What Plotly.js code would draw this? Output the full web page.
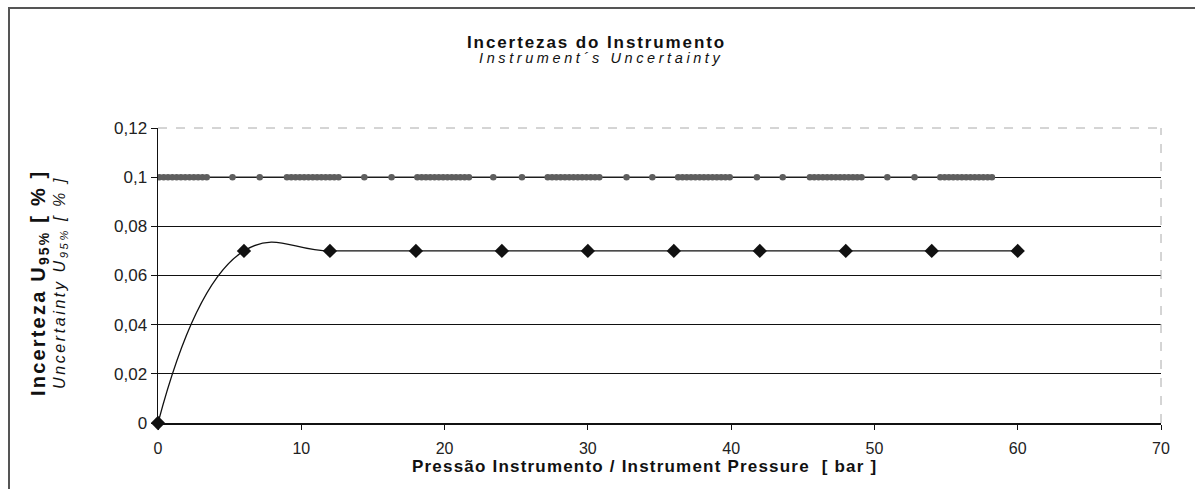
<!DOCTYPE html>
<html>
<head>
<meta charset="utf-8">
<script src="https://cdn.plot.ly/plotly-3.0.1.min.js"></script>
<style>
html,body{margin:0;padding:0;background:#fff;}
#wrap{position:relative;width:1195px;height:489px;overflow:hidden;}
#chart{position:absolute;left:0;top:0;width:1195px;height:489px;}
#frame{position:absolute;left:8px;top:7px;width:1200px;height:490px;border-left:2px solid #555;border-top:2px solid #555;pointer-events:none;}
</style>
</head>
<body>
<div id="wrap"><div id="chart"></div><div id="frame"></div></div>
<script>
// Instrument uncertainty (diamonds)
const pressure = [0, 6, 12, 18, 24, 30, 36, 42, 48, 54, 60];
const uncertainty = [0, 0.07, 0.07, 0.07, 0.07, 0.07, 0.07, 0.07, 0.07, 0.07, 0.07];

// Reference points at 0.1 % (grey clusters and dots)
const refPressure = [
  0.1, 0.4, 0.7, 1.0, 1.3, 1.6, 1.9, 2.2, 2.5, 2.8, 3.1, 3.4,
  5.2, 7.1,
  9.0, 9.3, 9.6, 9.9, 10.2, 10.5, 10.8, 11.1, 11.4, 11.7, 12.0, 12.3, 12.6,
  14.4, 16.3,
  18.1, 18.4, 18.7, 19.0, 19.3, 19.6, 19.9, 20.2, 20.5, 20.8, 21.1, 21.4, 21.7,
  23.4, 25.4,
  27.2, 27.5, 27.8, 28.1, 28.4, 28.7, 29.0, 29.3, 29.6, 29.9, 30.2, 30.5, 30.8,
  32.7, 34.5,
  36.3, 36.6, 36.9, 37.2, 37.5, 37.8, 38.1, 38.4, 38.7, 39.0, 39.3, 39.6, 39.9,
  41.8, 43.6,
  45.5, 45.8, 46.1, 46.4, 46.7, 47.0, 47.3, 47.6, 47.9, 48.2, 48.5, 48.8, 49.1,
  50.9, 52.8,
  54.6, 54.9, 55.2, 55.5, 55.8, 56.1, 56.4, 56.7, 57.0, 57.3, 57.6, 57.9, 58.2
];
const refUncertainty = [
  0.1, 0.1, 0.1, 0.1, 0.1, 0.1, 0.1, 0.1, 0.1, 0.1, 0.1, 0.1,
  0.1, 0.1,
  0.1, 0.1, 0.1, 0.1, 0.1, 0.1, 0.1, 0.1, 0.1, 0.1, 0.1, 0.1, 0.1,
  0.1, 0.1,
  0.1, 0.1, 0.1, 0.1, 0.1, 0.1, 0.1, 0.1, 0.1, 0.1, 0.1, 0.1, 0.1,
  0.1, 0.1,
  0.1, 0.1, 0.1, 0.1, 0.1, 0.1, 0.1, 0.1, 0.1, 0.1, 0.1, 0.1, 0.1,
  0.1, 0.1,
  0.1, 0.1, 0.1, 0.1, 0.1, 0.1, 0.1, 0.1, 0.1, 0.1, 0.1, 0.1, 0.1,
  0.1, 0.1,
  0.1, 0.1, 0.1, 0.1, 0.1, 0.1, 0.1, 0.1, 0.1, 0.1, 0.1, 0.1, 0.1,
  0.1, 0.1,
  0.1, 0.1, 0.1, 0.1, 0.1, 0.1, 0.1, 0.1, 0.1, 0.1, 0.1, 0.1, 0.1
];

const xTicks = [0, 10, 20, 30, 40, 50, 60, 70];
const xTickLabels = ['0', '10', '20', '30', '40', '50', '60', '70'];
const yTicks = [0, 0.02, 0.04, 0.06, 0.08, 0.1, 0.12];
const yTickLabels = ['0', '0,02', '0,04', '0,06', '0,08', '0,1', '0,12'];

const titleMain = 'Incertezas do Instrumento';
const titleSub = 'Instrument´s Uncertainty';
const xTitle = 'Pressão Instrumento / Instrument Pressure  [ bar ]';
const yTitleMain = 'Incerteza U<sub>95%</sub> [ % ]';
const yTitleSub = 'Uncertainty U<sub>95%</sub> [ % ]';

const FONT = 'Liberation Sans, Arial, sans-serif';

const traces = [
  {
    x: refPressure, y: refUncertainty, type: 'scatter', mode: 'lines+markers',
    line: {color: '#222', width: 1.3},
    marker: {symbol: 'circle', size: 6.5, color: '#5e5e5e', line: {width: 0}},
    hoverinfo: 'x+y', showlegend: false
  },
  {
    x: pressure, y: uncertainty, type: 'scatter', mode: 'lines+markers',
    line: {color: '#111', width: 1.3, shape: 'spline', smoothing: 1.3},
    marker: {symbol: 'diamond', size: 11, color: '#111'},
    hoverinfo: 'x+y', showlegend: false, cliponaxis: false
  }
];

const ann = (text, x, y, size, opts) => Object.assign({
  text: text, xref: 'paper', yref: 'paper', x: x, y: y,
  xanchor: 'center', yanchor: 'middle', showarrow: false,
  font: {family: FONT, size: size, color: '#111'}
}, opts || {});

const layout = {
  width: 1195, height: 489,
  margin: {l: 158, r: 34, t: 128, b: 66},
  paper_bgcolor: '#fff', plot_bgcolor: '#fff',
  separators: ',.',
  font: {family: FONT, color: '#111'},
  xaxis: {
    range: [0, 70], tickvals: xTicks, ticktext: xTickLabels,
    showgrid: false, zeroline: false,
    showline: true, linecolor: '#111', linewidth: 1.6,
    ticks: 'outside', ticklen: 5, tickcolor: '#111', tickwidth: 1,
    ticklabelstandoff: 5,
    tickfont: {family: FONT, size: 16, color: '#222'},
    fixedrange: true
  },
  yaxis: {
    range: [0, 0.12], tickvals: yTicks, ticktext: yTickLabels,
    showgrid: true, gridcolor: '#111', gridwidth: 1.3,
    zeroline: false,
    showline: true, linecolor: '#111', linewidth: 1.5,
    ticks: 'outside', ticklen: 6, tickcolor: '#111', tickwidth: 1,
    tickfont: {family: FONT, size: 17, color: '#222'},
    fixedrange: true
  },
  annotations: [
    ann('<span style="letter-spacing:1.9px"><b>' + titleMain + '</b></span>', 0.4367, 1.2915, 17),
    ann('<i><span style="letter-spacing:3.6px">' + titleSub + '</span></i>', 0.4417, 1.2373, 14.5),
    ann('<span style="letter-spacing:1.2px"><b>' + xTitle + '</b></span>', 0.4855, -0.1458, 17),
    ann('<span style="letter-spacing:2.2px"><b>' + yTitleMain + '</b></span>', -0.1176, 0.4746, 20, {textangle: -90}),
    ann('<i><span style="letter-spacing:2.6px">' + yTitleSub + '</span></i>', -0.0967, 0.4746, 16, {textangle: -90})
  ],
  shapes: [
    {type: 'line', xref: 'paper', yref: 'paper', x0: 0, x1: 1, y0: 1, y1: 1,
     line: {color: '#aaa', width: 1, dash: 'dash'}, layer: 'above'},
    {type: 'line', xref: 'paper', yref: 'paper', x0: 1, x1: 1, y0: 0, y1: 1,
     line: {color: '#aaa', width: 1, dash: 'dash'}, layer: 'above'}
  ]
};

Plotly.newPlot('chart', traces, layout, {displayModeBar: false, staticPlot: true});
</script>
</body>
</html>
